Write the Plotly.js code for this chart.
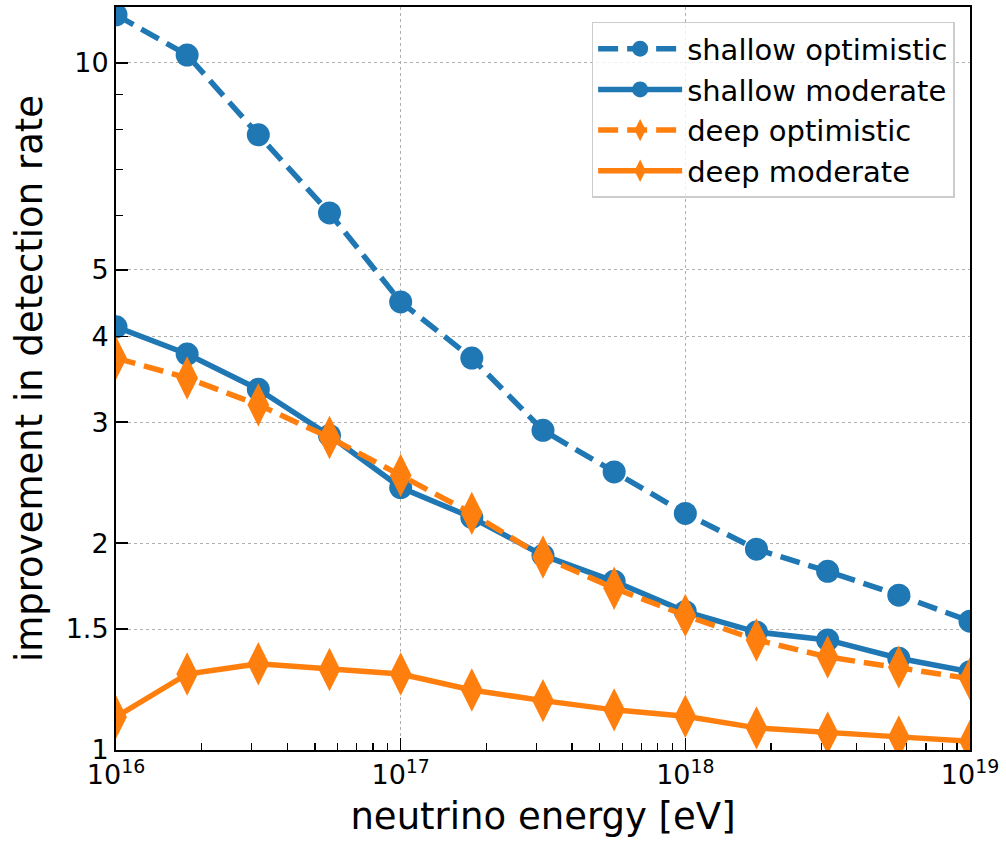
<!DOCTYPE html>
<html>
<head>
<meta charset="utf-8">
<script src="https://cdn.plot.ly/plotly-3.0.1.min.js"></script>
<style>html,body{margin:0;padding:0;background:#fff;}#chart{width:1006px;height:846px;}</style>
</head>
<body>
<div id="chart"></div>
<script>
// neutrino energies [eV]
const energy = [1e16, 1.778e16, 3.162e16, 5.623e16, 1e17, 1.778e17, 3.162e17, 5.623e17, 1e18, 1.778e18, 3.162e18, 5.623e18, 1e19];

const shallowOptimistic = [11.75, 10.27, 7.86, 6.05, 4.49, 3.72, 2.92, 2.54, 2.21, 1.96, 1.82, 1.68, 1.54];
const shallowModerate   = [4.13, 3.77, 3.35, 2.87, 2.41, 2.18, 1.92, 1.76, 1.59, 1.485, 1.446, 1.36, 1.30];
const deepOptimistic    = [3.72, 3.48, 3.18, 2.85, 2.51, 2.21, 1.91, 1.72, 1.57, 1.446, 1.366, 1.32, 1.27];
const deepModerate      = [1.117, 1.29, 1.335, 1.31, 1.29, 1.223, 1.18, 1.144, 1.12, 1.077, 1.059, 1.045, 1.03];

const seriesNames = ["shallow optimistic", "shallow moderate", "deep optimistic", "deep moderate"];

const xTickVals = [1e16, 1e17, 1e18, 1e19];
const xTickText = ["10<sup>16</sup>", "10<sup>17</sup>", "10<sup>18</sup>", "10<sup>19</sup>"];
const xMinorVals = [2e16,3e16,4e16,5e16,6e16,7e16,8e16,9e16,2e17,3e17,4e17,5e17,6e17,7e17,8e17,9e17,2e18,3e18,4e18,5e18,6e18,7e18,8e18,9e18];
const yTickVals = [1, 1.5, 2, 3, 4, 5, 10];
const yTickText = ["1", "1.5", "2", "3", "4", "5", "10"];
const yMinorVals = [6, 7, 8, 9];

const BLUE = "#1f77b4", ORANGE = "#ff7f0e";
const DASH = "20px,9px";

const traces = [
  {x: energy, y: shallowOptimistic, name: seriesNames[0], mode: "lines+markers",
   line: {color: BLUE, width: 5.5, dash: DASH}, marker: {symbol: "circle", size: 23, color: BLUE}},
  {x: energy, y: shallowModerate, name: seriesNames[1], mode: "lines+markers",
   line: {color: BLUE, width: 5.5}, marker: {symbol: "circle", size: 23, color: BLUE}},
  {x: energy, y: deepOptimistic, name: seriesNames[2], mode: "lines+markers",
   line: {color: ORANGE, width: 5.5, dash: DASH}, marker: {symbol: "diamond-tall", size: 31, color: ORANGE}},
  {x: energy, y: deepModerate, name: seriesNames[3], mode: "lines+markers",
   line: {color: ORANGE, width: 5.5}, marker: {symbol: "diamond-tall", size: 31, color: ORANGE}}
];

const layout = {
  width: 1006, height: 846,
  margin: {l: 116, r: 36, t: 7, b: 96},
  paper_bgcolor: "#fff", plot_bgcolor: "#fff",
  font: {family: "DejaVu Sans", color: "#000"},
  showlegend: true,
  legend: {
    x: 0.982, y: 0.98, xanchor: "right", yanchor: "top",
    bgcolor: "rgba(255,255,255,0.8)", bordercolor: "#cccccc", borderwidth: 1.5,
    font: {size: 29, family: "DejaVu Sans", color: "#000"},
    itemwidth: 84
  },
  xaxis: {
    type: "log", range: [16, 19],
    tickmode: "array", tickvals: xTickVals, ticktext: xTickText,
    ticks: "inside", ticklen: 12, tickwidth: 1.5, tickcolor: "#000",
    tickfont: {size: 27, family: "DejaVu Sans", color: "#000"},
    showline: true, linecolor: "#000", linewidth: 2, mirror: true,
    showgrid: true, gridcolor: "#b0b0b0", gridwidth: 1, griddash: "dot",
    zeroline: false,
    minor: {tickmode: "array", tickvals: xMinorVals, ticks: "inside", ticklen: 7, tickwidth: 1.2, tickcolor: "#000", showgrid: false},
    title: {text: "neutrino energy [eV]", font: {size: 37, family: "DejaVu Sans", color: "#000"}, standoff: 14}
  },
  yaxis: {
    type: "log", range: [0, 1.0815],
    tickmode: "array", tickvals: yTickVals, ticktext: yTickText,
    ticks: "inside", ticklen: 12, tickwidth: 1.5, tickcolor: "#000",
    tickfont: {size: 27, family: "DejaVu Sans", color: "#000"},
    showline: true, linecolor: "#000", linewidth: 2, mirror: true,
    showgrid: true, gridcolor: "#b0b0b0", gridwidth: 1, griddash: "dot",
    zeroline: false,
    minor: {tickmode: "array", tickvals: yMinorVals, ticks: "inside", ticklen: 7, tickwidth: 1.2, tickcolor: "#000", showgrid: false},
    title: {text: "improvement in detection rate", font: {size: 37, family: "DejaVu Sans", color: "#000"}, standoff: 12}
  }
};

Plotly.newPlot("chart", traces, layout, {displayModeBar: false, staticPlot: true});
</script>
</body>
</html>
